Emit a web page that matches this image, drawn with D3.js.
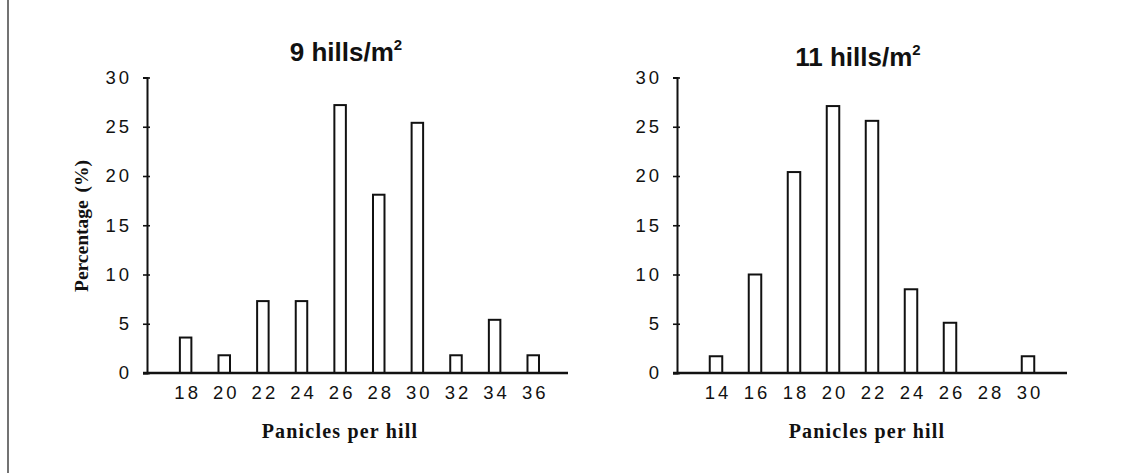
<!DOCTYPE html>
<html>
<head>
<meta charset="utf-8">
<script src="https://cdn.jsdelivr.net/npm/d3@7"></script>
<style>
  html, body { margin: 0; padding: 0; background: #fff; }
  svg { display: block; }
</style>
</head>
<body>
<svg id="chart" width="1143" height="473"></svg>
<script>
// ---- data ----
const categoriesA = [18, 20, 22, 24, 26, 28, 30, 32, 34, 36];
const valuesA = [3.6, 1.8, 7.3, 7.3, 27.2, 18.1, 25.4, 1.8, 5.4, 1.8];
const categoriesB = [14, 16, 18, 20, 22, 24, 26, 28, 30];
const valuesB = [1.7, 10.0, 20.4, 27.1, 25.6, 8.5, 5.1, 0, 1.7];
const yTicks = [0, 5, 10, 15, 20, 25, 30];
const titleA = "9 hills/m";
const titleB = "11 hills/m";
const xTitle = "Panicles per hill";
const yTitle = "Percentage (%)";

const svg = d3.select("#chart");

// frame line on the left
svg.append("line").attr("x1", 8).attr("x2", 8).attr("y1", 0).attr("y2", 473)
  .attr("stroke", "#444").attr("stroke-width", 1.5);

const y = d3.scaleLinear().domain([0, 30]).range([373, 77.5]);

function panel(opts) {
  const { cats, vals, xDomain, xRange, barW, title, titleX, titleY, xTitleX, showYTitle } = opts;
  const x = d3.scaleLinear().domain(xDomain).range(xRange);
  const g = svg.append("g");
  const x0 = xRange[0];

  // bars
  g.selectAll("rect.bar").data(cats.map((c, i) => ({ c, v: vals[i] })).filter(d => d.v > 0))
    .enter().append("rect").attr("class", "bar")
    .attr("x", d => x(d.c) - barW / 2 + 1)
    .attr("width", barW - 2)
    .attr("y", d => y(d.v))
    .attr("height", d => y(0) - y(d.v))
    .attr("fill", "#fff").attr("stroke", "#111").attr("stroke-width", 2);

  // y axis
  const ya = g.append("g").attr("transform", `translate(${x0},0)`)
    .call(d3.axisLeft(y).tickValues(yTicks).tickSize(4).tickPadding(14));
  ya.select(".domain").attr("stroke", "#111").attr("stroke-width", 2);
  ya.selectAll(".tick line").attr("x1", 3).attr("stroke", "#111").attr("stroke-width", 1.6);
  ya.selectAll(".tick text")
    .attr("font-family", "'Liberation Sans', Arial, sans-serif")
    .attr("font-size", 18.5).attr("letter-spacing", "3px").attr("fill", "#111")
    .attr("dx", 3);

  // x axis line
  const xa = g.append("g").attr("transform", `translate(0,${y(0)})`)
    .call(d3.axisBottom(x).tickValues(cats).tickSize(0).tickPadding(13));
  xa.select(".domain").attr("d", `M${x0 - 4},0H${xRange[1]}`)
    .attr("stroke", "#111").attr("stroke-width", 2.5);
  xa.selectAll(".tick text")
    .attr("font-family", "'Liberation Sans', Arial, sans-serif")
    .attr("font-size", 18.5).attr("letter-spacing", "3px").attr("fill", "#111")
    .attr("dx", 1.5);

  // title
  const t = svg.append("text").attr("x", titleX).attr("y", titleY)
    .attr("text-anchor", "middle")
    .attr("font-family", "'Liberation Sans', Arial, sans-serif")
    .attr("font-weight", "bold").attr("font-size", 26).attr("fill", "#111");
  t.append("tspan").text(title);
  t.append("tspan").attr("font-size", 15).attr("dy", -11).text("2");

  // x title
  svg.append("text").attr("x", xTitleX).attr("y", 438)
    .attr("text-anchor", "middle")
    .attr("font-family", "'Liberation Serif', 'Times New Roman', serif")
    .attr("font-weight", "bold").attr("font-size", 20).attr("letter-spacing", "1.2px")
    .attr("fill", "#111").text(xTitle);

  if (showYTitle) {
    svg.append("text").attr("transform", "translate(88,226) rotate(-90)")
      .attr("text-anchor", "middle")
      .attr("font-family", "'Liberation Serif', 'Times New Roman', serif")
      .attr("font-weight", "bold").attr("font-size", 19.5).attr("word-spacing", "3px")
      .attr("fill", "#111").text(yTitle);
  }
}

panel({ cats: categoriesA, vals: valuesA, xDomain: [16, 37.8], xRange: [147, 568], barW: 13.5,
  title: titleA, titleX: 346, titleY: 61, xTitleX: 340, showYTitle: true });
panel({ cats: categoriesB, vals: valuesB, xDomain: [12, 32], xRange: [677, 1067], barW: 14.5,
  title: titleB, titleX: 858, titleY: 66, xTitleX: 867, showYTitle: false });
</script>
</body>
</html>
